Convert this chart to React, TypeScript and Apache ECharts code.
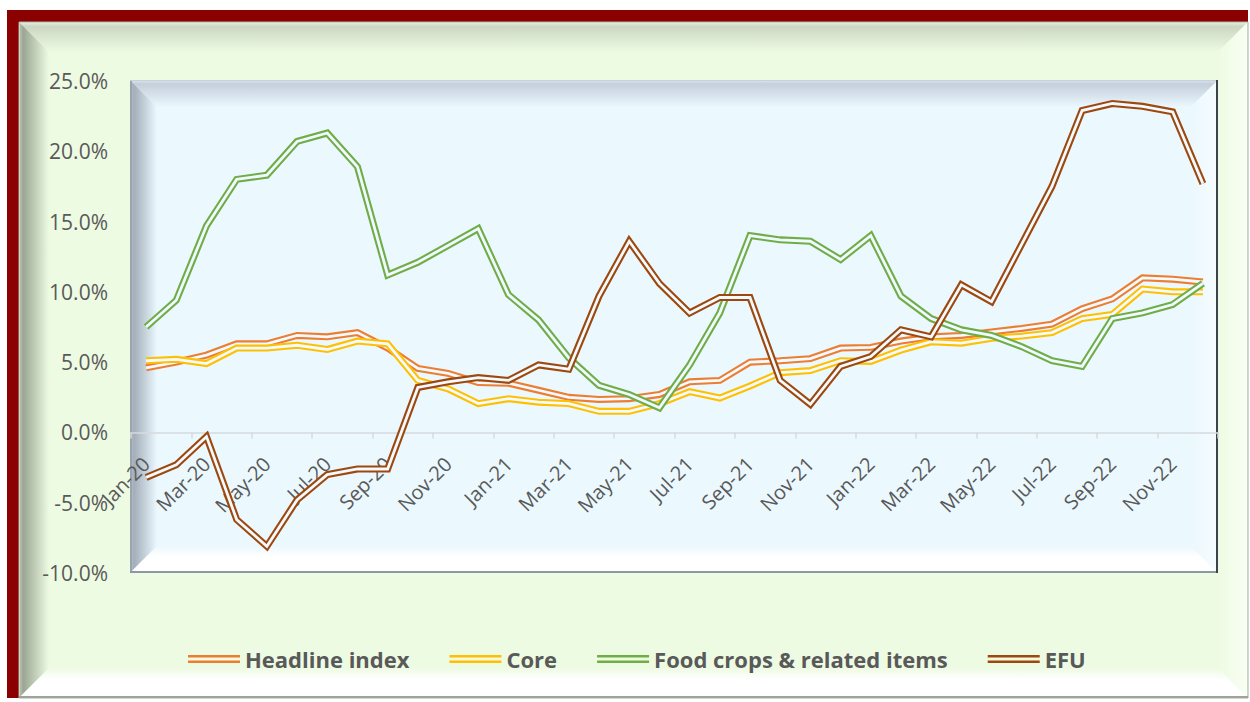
import React, { useEffect, useRef } from "react";
import * as echarts from "echarts";

const months = [
  "Jan-20", "Feb-20", "Mar-20", "Apr-20", "May-20", "Jun-20", "Jul-20", "Aug-20", "Sep-20", "Oct-20", "Nov-20", "Dec-20",
  "Jan-21", "Feb-21", "Mar-21", "Apr-21", "May-21", "Jun-21", "Jul-21", "Aug-21", "Sep-21", "Oct-21", "Nov-21", "Dec-21",
  "Jan-22", "Feb-22", "Mar-22", "Apr-22", "May-22", "Jun-22", "Jul-22", "Aug-22", "Sep-22", "Oct-22", "Nov-22", "Dec-22",
];

const headline = [4.6, 5.0, 5.5, 6.3, 6.3, 6.9, 6.8, 7.1, 6.0, 4.55, 4.2, 3.55, 3.5, 3.0, 2.5, 2.35, 2.4, 2.7, 3.6, 3.7, 5.0, 5.1, 5.25, 6.0, 6.05, 6.5, 6.8, 6.9, 7.15, 7.4, 7.7, 8.8, 9.5, 11.0, 10.9, 10.7];
const core = [5.1, 5.2, 4.9, 6.0, 6.0, 6.2, 5.9, 6.5, 6.3, 3.7, 3.1, 2.05, 2.4, 2.15, 2.05, 1.5, 1.5, 2.05, 2.9, 2.45, 3.3, 4.25, 4.4, 5.1, 5.05, 5.85, 6.45, 6.35, 6.7, 6.85, 7.1, 8.1, 8.4, 10.2, 10.0, 10.0];
const food = [7.5, 9.4, 14.7, 18.0, 18.3, 20.7, 21.3, 18.9, 11.2, 12.1, 13.3, 14.5, 9.8, 8.0, 5.3, 3.35, 2.7, 1.75, 4.8, 8.5, 14.0, 13.7, 13.6, 12.3, 14.0, 9.7, 8.1, 7.3, 6.9, 6.1, 5.1, 4.7, 8.1, 8.5, 9.1, 10.6];
const efu = [-3.2, -2.3, -0.3, -6.2, -8.1, -4.8, -3.0, -2.6, -2.6, 3.2, 3.6, 3.9, 3.7, 4.8, 4.5, 9.7, 13.6, 10.6, 8.5, 9.6, 9.6, 3.7, 2.0, 4.7, 5.4, 7.3, 6.8, 10.5, 9.3, 13.4, 17.5, 22.9, 23.4, 23.2, 22.8, 17.7];

const seriesNames = ["Headline index", "Core", "Food crops & related items", "EFU"];
const seriesValues = [headline, core, food, efu];
const seriesColors = ["#ED7D31", "#FFC000", "#70AD47", "#9E480E"];

const yMin = -10;
const yMax = 25;
const yStep = 5;

const PANEL = "#EEFBE3";
const PLOT_BG = "#EBF8FE";
const GAP = "#F0FAFF";
const TEXT = "#595959";
const FONT = "Open Sans";

const GRID_TOP = 81;
const GRID_BOTTOM = 129;
const CHART_H = 702;

function lin(x2: number, y2: number, stops: [number, string][]) {
  return {
    type: "linear",
    x: 0,
    y: 0,
    x2,
    y2,
    colorStops: stops.map(([offset, color]) => ({ offset, color })),
  };
}

function frameElements() {
  const L = 19, T = 22, R = 1248, B = 698, b = 30;
  const pl = 130, pt = 80, pr = 1218, pb = 573, pbv = 27;
  const els: any[] = [
    { type: "rect", z: 1, shape: { x: 7, y: 10, width: R - 7, height: B - 10 }, style: { fill: "#8B0000" } },
    { type: "rect", z: 1, shape: { x: L, y: T, width: R - L, height: B - T }, style: { fill: PANEL, stroke: "#A7AFA2", lineWidth: 1 } },
    { type: "polygon", z: 1, shape: { points: [[L + 1, T + 1], [R - 1, T + 1], [R - b, T + b], [L + b, T + b]] }, style: { fill: lin(0, 1, [[0, "#E3EBDC"], [0.12, "#CBD7C2"], [1, PANEL]]) } },
    { type: "polygon", z: 1, shape: { points: [[L + 1, T + 1], [L + b, T + b], [L + b, B - b], [L + 1, B - 1]] }, style: { fill: lin(1, 0, [[0, "#B3BDAC"], [0.12, "#9BA793"], [1, PANEL]]) } },
    { type: "polygon", z: 1, shape: { points: [[L + 1, B - 1], [L + b, B - b], [R - b, B - b], [R - 1, B - 1]] }, style: { fill: lin(0, 1, [[0, PANEL], [0.4, "#FFFFFF"], [1, "#FFFFFF"]]) } },
    { type: "polygon", z: 1, shape: { points: [[R - 1, T + 1], [R - b, T + b], [R - b, B - b], [R - 1, B - 1]] }, style: { fill: lin(1, 0, [[0, PANEL], [1, "#F9FFF4"]]) } },
    { type: "line", z: 1, shape: { x1: L, y1: B - 1, x2: R, y2: B - 1 }, style: { stroke: "#9DA598", lineWidth: 2 } },
    { type: "rect", z: 1, shape: { x: pl, y: pt, width: pr - pl, height: pb - pt }, style: { fill: PLOT_BG } },
    { type: "polygon", z: 1, shape: { points: [[pl, pt], [pr, pt], [pr - pbv, pt + pbv], [pl + pbv, pt + pbv]] }, style: { fill: lin(0, 1, [[0, "#DCE6EF"], [0.15, "#C4CFDB"], [1, PLOT_BG]]) } },
    { type: "polygon", z: 1, shape: { points: [[pl, pt], [pl + pbv, pt + pbv], [pl + pbv, pb - pbv], [pl, pb]] }, style: { fill: lin(1, 0, [[0, "#B8C2CC"], [0.15, "#A3AEBA"], [1, PLOT_BG]]) } },
    { type: "polygon", z: 1, shape: { points: [[pl, pb], [pl + pbv, pb - pbv], [pr - pbv, pb - pbv], [pr, pb]] }, style: { fill: lin(0, 1, [[0, PLOT_BG], [0.4, "#FFFFFF"], [1, "#FFFFFF"]]) } },
    { type: "polygon", z: 1, shape: { points: [[pr, pt], [pr - pbv, pt + pbv], [pr - pbv, pb - pbv], [pr, pb]] }, style: { fill: lin(1, 0, [[0, PLOT_BG], [1, "#F6FCFF"]]) } },
    { type: "line", z: 1, shape: { x1: pl + 1, y1: pt, x2: pl + 1, y2: pb }, style: { stroke: "#9AA4AE", lineWidth: 2 } },
    { type: "line", z: 1, shape: { x1: pl, y1: pt + 0.5, x2: pr, y2: pt + 0.5 }, style: { stroke: "#C7D1DB", lineWidth: 1 } },
    { type: "line", z: 1, shape: { x1: pl, y1: pb - 1, x2: pr, y2: pb - 1 }, style: { stroke: "#8C98A3", lineWidth: 2 } },
    { type: "line", z: 1, shape: { x1: pr - 1, y1: pt, x2: pr - 1, y2: pb }, style: { stroke: "#3D444C", lineWidth: 2 } },
  ];
  return els;
}

export default function App() {
  const ref = useRef<HTMLDivElement>(null);

  useEffect(() => {
    if (!ref.current) return;
    const chart = echarts.init(ref.current, undefined, { renderer: "svg" });

    const series: any[] = [];
    seriesNames.forEach((name, i) => {
      series.push({
        type: "line",
        name,
        data: seriesValues[i],
        symbol: "none",
        silent: true,
        z: 20 + i * 2,
        itemStyle: { color: seriesColors[i], borderWidth: 0 },
        lineStyle: { color: seriesColors[i], width: 7, join: "miter", miterLimit: 8 },
      });
      series.push({
        type: "line",
        name: name + "-gap",
        data: seriesValues[i],
        symbol: "none",
        silent: true,
        z: 21 + i * 2,
        itemStyle: { color: GAP, borderWidth: 0 },
        lineStyle: { color: GAP, width: 2.8, join: "miter", miterLimit: 8 },
      });
    });

    // place the category axis on the zero value line
    const plotH = CHART_H - GRID_TOP - GRID_BOTTOM;
    const zeroOffset = -((0 - yMin) / (yMax - yMin)) * plotH;

    chart.setOption({
      animation: false,
      backgroundColor: "#FFFFFF",
      graphic: { elements: frameElements() },
      grid: { left: 131, right: 32, top: GRID_TOP, bottom: GRID_BOTTOM, containLabel: false },
      legend: {
        z: 30,
        left: 188,
        top: 648,
        padding: 0,
        itemWidth: 52,
        itemHeight: 8,
        itemGap: 40,
        icon: "path://M0 0H52V2.5H0Z M0 5.5H52V8H0Z",
        itemStyle: { borderWidth: 0 },
        textStyle: { color: TEXT, fontSize: 22, fontWeight: "bold", fontFamily: FONT },
        data: seriesNames.map((n, i) => ({ name: n, itemStyle: { color: seriesColors[i], borderWidth: 0 } })),
        selectedMode: false,
      },
      xAxis: {
        type: "category",
        data: months,
        boundaryGap: true,
        z: 10,
        offset: zeroOffset,
        axisLine: { onZero: false, lineStyle: { color: "#D6DADE", width: 1.5 } },
        axisTick: { show: true, interval: 1, length: 6, lineStyle: { color: "#D6DADE", width: 1.5 } },
        axisLabel: { interval: 1, rotate: 45, margin: 28, color: TEXT, fontSize: 20, fontFamily: FONT },
        splitLine: { show: false },
      },
      yAxis: {
        type: "value",
        min: yMin,
        max: yMax,
        interval: yStep,
        z: 10,
        axisLine: { show: false },
        axisTick: { show: false },
        splitLine: { show: false },
        axisLabel: {
          margin: 23,
          color: TEXT,
          fontSize: 21,
          fontFamily: FONT,
          formatter: (v: number) => v.toFixed(1) + "%",
        },
      },
      series,
    });

    return () => chart.dispose();
  }, []);

  return (
    <div
      ref={ref}
      style={{ position: "absolute", left: 0, top: 0, width: 1250, height: 702 }}
    />
  );
}
